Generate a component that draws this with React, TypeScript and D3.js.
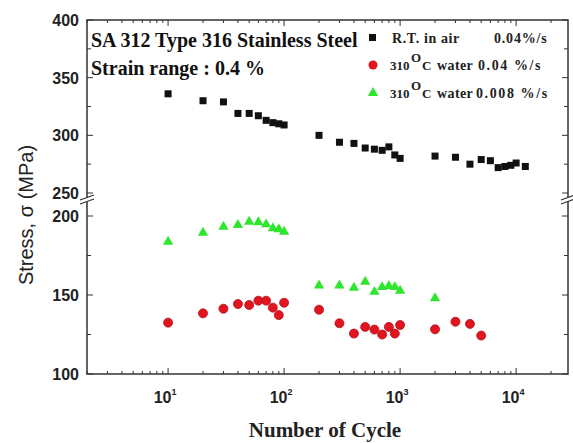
import React, { useEffect, useRef } from 'react';
import * as d3 from 'd3';

// cycles / stress
const airCycles = [10, 20, 30, 40, 50, 60, 70, 80, 90, 100, 200, 300, 400, 500, 600, 700, 800, 900, 1000, 2000, 3000, 4000, 5000, 6000, 7000, 8000, 9000, 10000, 12000];
const airStress = [336, 330, 329, 319, 319, 317, 313, 311, 310, 309, 300, 294, 293, 289, 288, 287, 290, 283, 280, 282, 281, 275, 279, 278, 272, 273, 274, 276, 273];

const waterFastCycles = [10, 20, 30, 40, 50, 60, 70, 80, 90, 100, 200, 300, 400, 500, 600, 700, 800, 900, 1000, 2000, 3000, 4000, 5000];
const waterFastStress = [132.5, 138.4, 141.3, 144.3, 143.7, 146.4, 146.4, 142, 137.3, 145.1, 140.7, 132.1, 125.6, 129.8, 128.1, 125, 129.8, 125.6, 131, 128.3, 133.1, 131.7, 124.3];

const waterSlowCycles = [10, 20, 30, 40, 50, 60, 70, 80, 90, 100, 200, 300, 400, 500, 600, 700, 800, 900, 1000, 2000];
const waterSlowStress = [183.7, 189.4, 193.2, 194.3, 196.4, 196, 194.7, 192.2, 191.6, 190, 156, 156, 154.6, 158.4, 152, 155, 155.7, 155, 152.7, 148];

const upperTicks = [250, 275, 300, 325, 350, 375, 400];
const lowerTicks = [100, 125, 150, 175, 200];
const decades = [1, 2, 3, 4];

const RED = '#e3141f';
const GREEN = '#2ee62e';
const SERIF = '"Liberation Serif", "Times New Roman", serif';
const SANS = '"Liberation Sans", Arial, sans-serif';

const StressChart = () => {
  const ref = useRef<SVGSVGElement>(null);

  useEffect(() => {
    const width = 573;
    const height = 443;
    const left = 87, right = 568, top = 20, bottom = 374;

    const x = d3.scaleLog().domain([2, 28000]).range([left, right]);
    const yU = d3.scaleLinear().domain([250, 400]).range([193, top]);
    const yL = d3.scaleLinear().domain([100, 200]).range([bottom, 216]);

    const svg = d3.select(ref.current).attr('width', width).attr('height', height);
    svg.selectAll('*').remove();

    const axisColor = '#333';

    // minor x ticks
    const minor: number[] = [];
    for (let e = 0; e <= 4; e++) {
      for (let k = 2; k <= 9; k++) {
        const v = k * Math.pow(10, e);
        if (v >= 2 && v <= 28000) minor.push(v);
      }
    }

    const gx = svg.append('g').attr('stroke', axisColor).attr('stroke-width', 1);
    minor.forEach((v) => {
      gx.append('line').attr('x1', x(v)).attr('x2', x(v)).attr('y1', bottom).attr('y2', bottom - 3);
      gx.append('line').attr('x1', x(v)).attr('x2', x(v)).attr('y1', top).attr('y2', top + 3);
    });
    decades.forEach((d) => {
      const v = Math.pow(10, d);
      gx.append('line').attr('x1', x(v)).attr('x2', x(v)).attr('y1', bottom).attr('y2', bottom - 6);
      gx.append('line').attr('x1', x(v)).attr('x2', x(v)).attr('y1', top).attr('y2', top + 6);
    });

    // x tick labels
    const xl = svg.append('g').attr('font-family', SANS).attr('font-weight', 'bold').attr('fill', '#222');
    decades.forEach((d) => {
      const t = xl.append('text').attr('x', x(Math.pow(10, d)) - 3).attr('y', 403).attr('text-anchor', 'middle').attr('font-size', 16);
      t.append('tspan').text('10');
      t.append('tspan').attr('dy', -8).attr('font-size', 9).text(String(d));
    });

    // y ticks
    const gy = svg.append('g').attr('stroke', axisColor).attr('stroke-width', 1);
    const yTicks = [
      ...upperTicks.map((v) => ({ v, y: yU(v) })),
      ...lowerTicks.map((v) => ({ v, y: yL(v) })),
    ];
    yTicks.forEach(({ v, y }) => {
      const len = v % 50 === 0 ? 6 : 4;
      gy.append('line').attr('x1', left).attr('x2', left + len).attr('y1', y).attr('y2', y);
      gy.append('line').attr('x1', right).attr('x2', right - len).attr('y1', y).attr('y2', y);
    });
    svg.append('g')
      .attr('font-family', SANS).attr('font-weight', 'bold').attr('font-size', 16).attr('fill', '#222')
      .selectAll('text')
      .data(yTicks.filter((d) => d.v % 50 === 0))
      .enter()
      .append('text')
      .attr('x', left - 8)
      .attr('y', (d) => d.y + 6)
      .attr('text-anchor', 'end')
      .text((d) => d.v);

    // frame
    svg.append('rect')
      .attr('x', left).attr('y', top).attr('width', right - left).attr('height', bottom - top)
      .attr('fill', 'none').attr('stroke', axisColor).attr('stroke-width', 1.5);

    // axis breaks
    [left, right].forEach((ax) => {
      const b = svg.append('g');
      b.append('polygon')
        .attr('points', `${ax - 7},${200} ${ax + 7},${195} ${ax + 7},${199} ${ax - 7},${204}`)
        .attr('fill', 'white');
      b.append('line').attr('x1', ax - 7).attr('y1', 200).attr('x2', ax + 7).attr('y2', 195).attr('stroke', axisColor).attr('stroke-width', 1.2);
      b.append('line').attr('x1', ax - 7).attr('y1', 204).attr('x2', ax + 7).attr('y2', 199).attr('stroke', axisColor).attr('stroke-width', 1.2);
    });

    // data
    const air = airCycles.map((c, i) => [c, airStress[i]]);
    svg.append('g').selectAll('rect').data(air).enter().append('rect')
      .attr('x', (d) => x(d[0]) - 3.5).attr('y', (d) => yU(d[1]) - 3.5)
      .attr('width', 7).attr('height', 7).attr('fill', '#111');

    const fast = waterFastCycles.map((c, i) => [c, waterFastStress[i]]);
    svg.append('g').selectAll('circle').data(fast).enter().append('circle')
      .attr('cx', (d) => x(d[0])).attr('cy', (d) => yL(d[1])).attr('r', 4.5)
      .attr('fill', RED).attr('stroke', '#b0101a').attr('stroke-width', 0.8);

    const tri = d3.symbol().type(d3.symbolTriangle).size(46);
    const slow = waterSlowCycles.map((c, i) => [c, waterSlowStress[i]]);
    svg.append('g').selectAll('path').data(slow).enter().append('path')
      .attr('d', tri)
      .attr('transform', (d) => `translate(${x(d[0])},${yL(d[1])})`)
      .attr('fill', GREEN);

    // title text
    const txt = svg.append('g').attr('font-family', SERIF).attr('font-weight', 'bold').attr('fill', '#111');
    txt.append('text').attr('x', 91).attr('y', 47).attr('font-size', 20).text('SA 312 Type 316 Stainless Steel');
    txt.append('text').attr('x', 91).attr('y', 75).attr('font-size', 20).text('Strain range : 0.4 %');

    // legend
    const lg = svg.append('g').attr('font-family', SERIF).attr('font-weight', 'bold').attr('font-size', 14).attr('fill', '#222');
    lg.append('rect').attr('x', 369).attr('y', 34).attr('width', 7).attr('height', 7).attr('fill', '#111');
    lg.append('text').attr('x', 392).attr('y', 43).attr('letter-spacing', 0.6).text('R.T. in air');
    lg.append('text').attr('x', 494).attr('y', 43).attr('letter-spacing', 0.8).text('0.04%/s');

    const legendRow = (y: number, rate: string, rateX: number) => {
      lg.append('text').attr('x', 390).attr('y', y).attr('font-size', 13).text('310');
      lg.append('text').attr('x', 411).attr('y', y - 8).attr('font-size', 13).text('O');
      lg.append('text').attr('x', 422).attr('y', y).attr('font-size', 13).text('C');
      lg.append('text').attr('x', 437).attr('y', y).attr('letter-spacing', 0.4).text('water');
      lg.append('text').attr('x', rateX).attr('y', y).attr('letter-spacing', 1.6).text(rate);
    };

    lg.append('circle').attr('cx', 373).attr('cy', 65).attr('r', 4.5).attr('fill', RED);
    legendRow(70, '0.04 %/s', 478);

    lg.append('path').attr('d', tri).attr('transform', 'translate(373,93)').attr('fill', GREEN);
    legendRow(98, '0.008 %/s', 476);

    // axis titles
    svg.append('text')
      .attr('transform', 'translate(33,215) rotate(-90)')
      .attr('text-anchor', 'middle')
      .attr('font-family', SANS).attr('font-size', 20).attr('fill', '#222')
      .text('Stress, σ (MPa)');
    svg.append('text')
      .attr('x', 325).attr('y', 437)
      .attr('text-anchor', 'middle')
      .attr('font-family', SERIF).attr('font-weight', 'bold').attr('font-size', 21).attr('fill', '#222')
      .text('Number of Cycle');
  }, []);

  return <svg ref={ref} style={{ position: 'absolute', left: 0, top: 0, background: 'white' }} />;
};

export default function App() {
  return <StressChart />;
}
